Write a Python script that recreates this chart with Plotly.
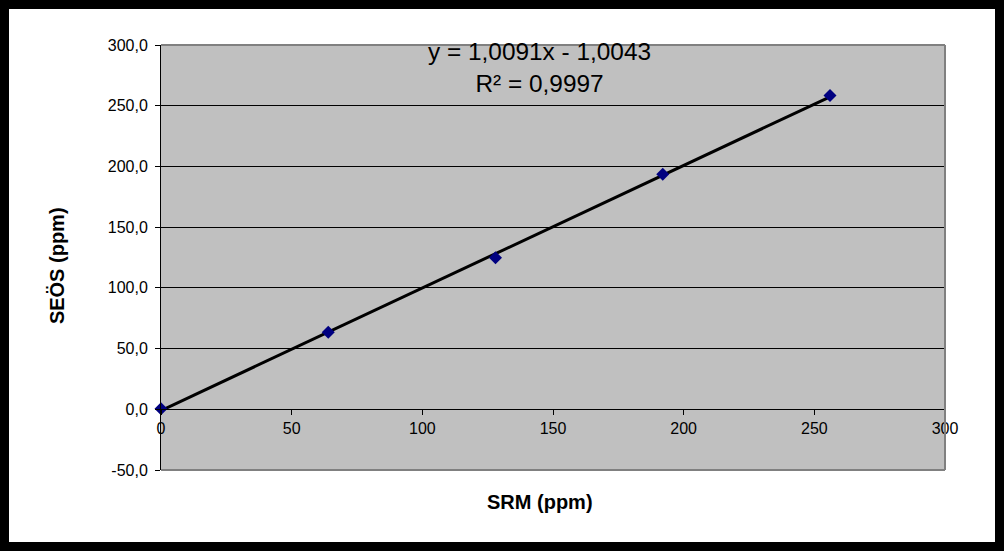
import numpy as np
import plotly.graph_objects as go

# Data
srm = [0, 64, 128, 192, 256]
seos = [0.5, 63.5, 124.8, 193.5, 258.5]
x_ticks = [0, 50, 100, 150, 200, 250, 300]
y_ticks = [-50, 0, 50, 100, 150, 200, 250, 300]
y_ticklabels = ["-50,0", "0,0", "50,0", "100,0", "150,0", "200,0", "250,0", "300,0"]
eq_text = "y = 1,0091x - 1,0043<br>R² = 0,9997"
x_title = "SRM (ppm)"
y_title = "SEÖS (ppm)"

slope, intercept = np.polyfit(srm, seos, 1)
fit_x = [min(srm), max(srm)]
fit_y = [slope * v + intercept for v in fit_x]

FONT = "Liberation Sans, Arial, sans-serif"

fig = go.Figure()
fig.add_trace(go.Scatter(x=fit_x, y=fit_y, mode="lines",
                         line=dict(color="black", width=3),
                         showlegend=False, hoverinfo="skip", cliponaxis=False))
fig.add_trace(go.Scatter(x=srm, y=seos, mode="markers",
                         marker=dict(symbol="diamond", size=10, color="#000080"),
                         showlegend=False, hoverinfo="skip", cliponaxis=False))

fig.update_layout(
    width=1004, height=551,
    margin=dict(l=161, r=59, t=45, b=81),
    paper_bgcolor="white", plot_bgcolor="#C0C0C0",
    separators=",.",
    font=dict(family=FONT, size=16, color="black"),
    showlegend=False,
    xaxis=dict(range=[0, 300], tickvals=x_ticks, ticktext=[str(v) for v in x_ticks],
               anchor="free", position=50/350, showgrid=False, zeroline=False,
               showline=True, linecolor="black", linewidth=1,
               ticks="outside", ticklen=5, tickcolor="black",
               tickfont=dict(size=16, family=FONT)),
    yaxis=dict(range=[-50, 300], tickvals=y_ticks, ticktext=y_ticklabels,
               showgrid=True, gridcolor="black", gridwidth=1, zeroline=False,
               showline=True, linecolor="black", linewidth=1,
               ticks="outside", ticklen=5, tickcolor="black", ticklabelstandoff=4,
               tickfont=dict(size=16, family=FONT)),
    annotations=[
        dict(text=eq_text, xref="paper", yref="paper", x=0.4825, y=0.947,
             xanchor="center", yanchor="middle", showarrow=False,
             font=dict(size=24.4, family=FONT, color="black")),
        dict(text="<b>" + x_title + "</b>", xref="paper", yref="paper", x=0.4834, y=-0.0753,
             xanchor="center", yanchor="middle", showarrow=False,
             font=dict(size=20, family=FONT, color="black")),
        dict(text="<b>" + y_title + "</b>", xref="paper", yref="paper", x=-0.1327, y=0.482,
             xanchor="center", yanchor="middle", showarrow=False, textangle=-90,
             font=dict(size=20, family=FONT, color="black")),
    ],
    shapes=[
        # gray plot border (top, right, bottom)
        dict(type="line", xref="paper", yref="paper", x0=0, x1=1, y0=1, y1=1,
             line=dict(color="#808080", width=2)),
        dict(type="line", xref="paper", yref="paper", x0=1, x1=1, y0=0, y1=1,
             line=dict(color="#808080", width=2)),
        dict(type="line", xref="paper", yref="paper", x0=0, x1=1, y0=0, y1=0,
             line=dict(color="#808080", width=2)),
        # black outer frame
        dict(type="rect", xref="paper", yref="paper",
             x0=(4.5 - 161) / 784, x1=(999.5 - 161) / 784,
             y0=(470 - 546.5) / 425, y1=(470 - 4.5) / 425,
             line=dict(color="black", width=9), fillcolor="rgba(0,0,0,0)"),
    ],
)

fig.write_html("out.html")
